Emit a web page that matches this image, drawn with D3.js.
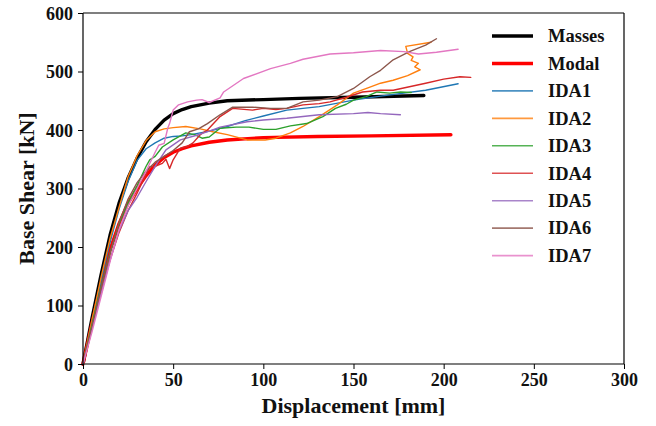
<!DOCTYPE html>
<html>
<head>
<meta charset="utf-8">
<script src="https://cdn.jsdelivr.net/npm/d3@7"></script>
<style>
  body { margin: 0; background: #fff; }
  text { font-family: "Liberation Serif", "Times New Roman", serif; font-weight: bold; fill: #111; }
</style>
</head>
<body>
<script>
"use strict";

// displacement [mm], base shear [kN]
var masses = [[0,0],[5,78],[10,152],[15,220],[20,275],[25,318],[30,352],[35,380],[40,401],[45,417],[50,428],[55,435],[60,440],[70,446],[80,450],[100,452],[120,454],[150,456],[189,459]];
var modal = [[0,0],[5,70],[10,135],[15,195],[20,240],[25,275],[30,300],[35,322],[40,340],[45,353],[50,362],[55,368],[60,373],[70,379],[80,383],[100,387],[130,389],[160,390],[204,392]];
var ida1 = [[0,0],[5,72],[10,142],[15,208],[20,265],[25,312],[30,348],[35,368],[40,378],[45,386],[50,389],[55,390],[60,392],[70,398],[80,406],[90,416],[100,424],[113,434],[131,440],[150,451],[165,458],[190,468],[208,479]];
var ida2 = [[0,0],[5,75],[10,148],[15,215],[20,268],[25,320],[30,356],[35,382],[40,397],[45,402],[50,404],[57,406],[65,402],[72,397],[80,392],[91,383],[101,383],[107,386],[115,395],[122,406],[131,423],[141,443],[150,463],[158,472],[165,480],[172,485],[180,493],[187,503],[184,508],[186,514],[182,519],[183,525],[180,531],[179,543],[193,550]];
var ida3 = [[0,0],[5,68],[10,132],[15,190],[20,240],[25,275],[30,305],[35,338],[37,349],[40,355],[44,371],[50,383],[57,395],[62,392],[66,386],[70,388],[76,403],[85,405],[92,405],[100,401],[107,401],[115,407],[124,411],[133,423],[140,437],[146,444],[150,451],[157,457],[163,465],[170,463],[176,465],[182,464]];
var ida4 = [[0,0],[5,62],[10,122],[15,178],[20,225],[25,262],[30,292],[35,325],[37,337],[40,338],[44,343],[46,350],[48,334],[50,349],[54,369],[58,372],[61,378],[65,392],[69,400],[76,423],[83,437],[94,434],[100,437],[107,435],[113,437],[122,443],[131,445],[137,448],[146,456],[155,465],[165,468],[172,468],[181,474],[190,480],[200,487],[209,491],[215,490]];
var ida5 = [[0,0],[5,60],[10,120],[15,178],[20,228],[25,262],[30,285],[35,312],[41,343],[46,366],[54,383],[63,391],[70,398],[76,405],[91,414],[100,417],[113,420],[131,426],[150,428],[158,430],[165,428],[176,426]];
var ida6 = [[0,0],[5,65],[10,130],[15,190],[20,242],[25,282],[30,310],[35,330],[40,345],[45,355],[50,365],[55,378],[59,397],[64,402],[69,411],[76,426],[83,439],[94,439],[104,437],[113,437],[122,448],[131,451],[141,457],[150,471],[159,491],[165,502],[172,520],[181,534],[190,545],[196,556]];
var ida7 = [[0,0],[5,55],[10,115],[15,175],[20,230],[25,270],[30,300],[35,330],[40,362],[42,374],[45,377],[47,403],[48,411],[50,434],[53,443],[58,448],[63,451],[66,452],[70,447],[76,455],[78,465],[89,488],[104,505],[115,514],[122,521],[137,530],[150,532],[165,536],[178,534],[186,530],[196,533],[208,538]];

var seriesNames = ["Masses", "Modal", "IDA1", "IDA2", "IDA3", "IDA4", "IDA5", "IDA6", "IDA7"];
var seriesValues = [masses, modal, ida1, ida2, ida3, ida4, ida5, ida6, ida7];
var seriesColors = ["#000000", "#ff0000", "#1f77b4", "#ff7f0e", "#2ca02c", "#d62728", "#9467bd", "#8c564b", "#e377c2"];
var xTicks = [0, 50, 100, 150, 200, 250, 300];
var yTicks = [0, 100, 200, 300, 400, 500, 600];

var width = 656, height = 426;
var plotLeft = 83, plotRight = 624, plotTop = 13, plotBottom = 364;

var svg = d3.select("body").append("svg")
    .attr("width", width)
    .attr("height", height);

var x = d3.scaleLinear().domain([0, 300]).range([plotLeft, plotRight]);
var y = d3.scaleLinear().domain([0, 600]).range([plotBottom, plotTop]);

var line = d3.line()
    .x(function(d) { return x(d[0]); })
    .y(function(d) { return y(d[1]); });

// curves, in legend order
svg.append("g")
    .attr("class", "curves")
    .selectAll("path")
    .data(seriesValues)
    .enter()
    .append("path")
    .attr("d", line)
    .attr("fill", "none")
    .attr("stroke", function(d, i) { return seriesColors[i]; })
    .attr("stroke-width", function(d, i) { return i < 2 ? 3.4 : 1.4; })
    .attr("stroke-linejoin", "round")
    .attr("stroke-linecap", "round");

// frame
svg.append("line").attr("x1", plotLeft).attr("x2", plotRight).attr("y1", plotTop).attr("y2", plotTop)
    .attr("stroke", "#555").attr("stroke-width", 1.4);
svg.append("line").attr("x1", plotLeft).attr("x2", plotRight).attr("y1", plotBottom).attr("y2", plotBottom)
    .attr("stroke", "#555").attr("stroke-width", 1.4);
svg.append("line").attr("x1", plotLeft).attr("x2", plotLeft).attr("y1", plotTop).attr("y2", plotBottom)
    .attr("stroke", "#000").attr("stroke-width", 1.2);
svg.append("line").attr("x1", plotRight).attr("x2", plotRight).attr("y1", plotTop).attr("y2", plotBottom)
    .attr("stroke", "#000").attr("stroke-width", 1.2);

// axes
var xAxis = svg.append("g")
    .attr("transform", "translate(0," + plotBottom + ")")
    .call(d3.axisBottom(x).tickValues(xTicks).tickSize(5).tickPadding(4));
var yAxis = svg.append("g")
    .attr("transform", "translate(" + plotLeft + ",0)")
    .call(d3.axisLeft(y).tickValues(yTicks).tickSize(5).tickPadding(5));

[xAxis, yAxis].forEach(function(ax) {
    ax.select(".domain").remove();
    ax.selectAll(".tick line").attr("stroke", "#000").attr("stroke-width", 1);
    ax.selectAll(".tick text")
        .attr("fill", "#111")
        .style("font-family", "'Liberation Serif', 'Times New Roman', serif")
        .style("font-weight", "bold")
        .style("font-size", "18px");
});
yAxis.selectAll(".tick text").attr("dy", "0.34em");

// axis titles
svg.append("text")
    .attr("x", (plotLeft + plotRight) / 2)
    .attr("y", 413)
    .attr("text-anchor", "middle")
    .style("font-size", "22px")
    .text("Displacement [mm]");

svg.append("text")
    .attr("transform", "translate(34," + ((plotTop + plotBottom) / 2) + ") rotate(-90)")
    .attr("text-anchor", "middle")
    .style("font-size", "22px")
    .text("Base Shear [kN]");

// legend
var legend = svg.append("g")
    .attr("class", "legend")
    .selectAll("g")
    .data(seriesNames)
    .enter()
    .append("g")
    .attr("transform", function(d, i) { return "translate(0," + (36 + i * 27.45) + ")"; });

legend.append("line")
    .attr("x1", 492)
    .attr("x2", 533)
    .attr("stroke", function(d, i) { return seriesColors[i]; })
    .attr("stroke-opacity", function(d, i) { return i < 2 ? 1 : 0.8; })
    .attr("stroke-width", function(d, i) { return i < 2 ? 3.4 : 1.6; });

legend.append("text")
    .attr("x", 548)
    .attr("dy", "0.34em")
    .style("font-size", "18.5px")
    .text(function(d) { return d; });
</script>
</body>
</html>
